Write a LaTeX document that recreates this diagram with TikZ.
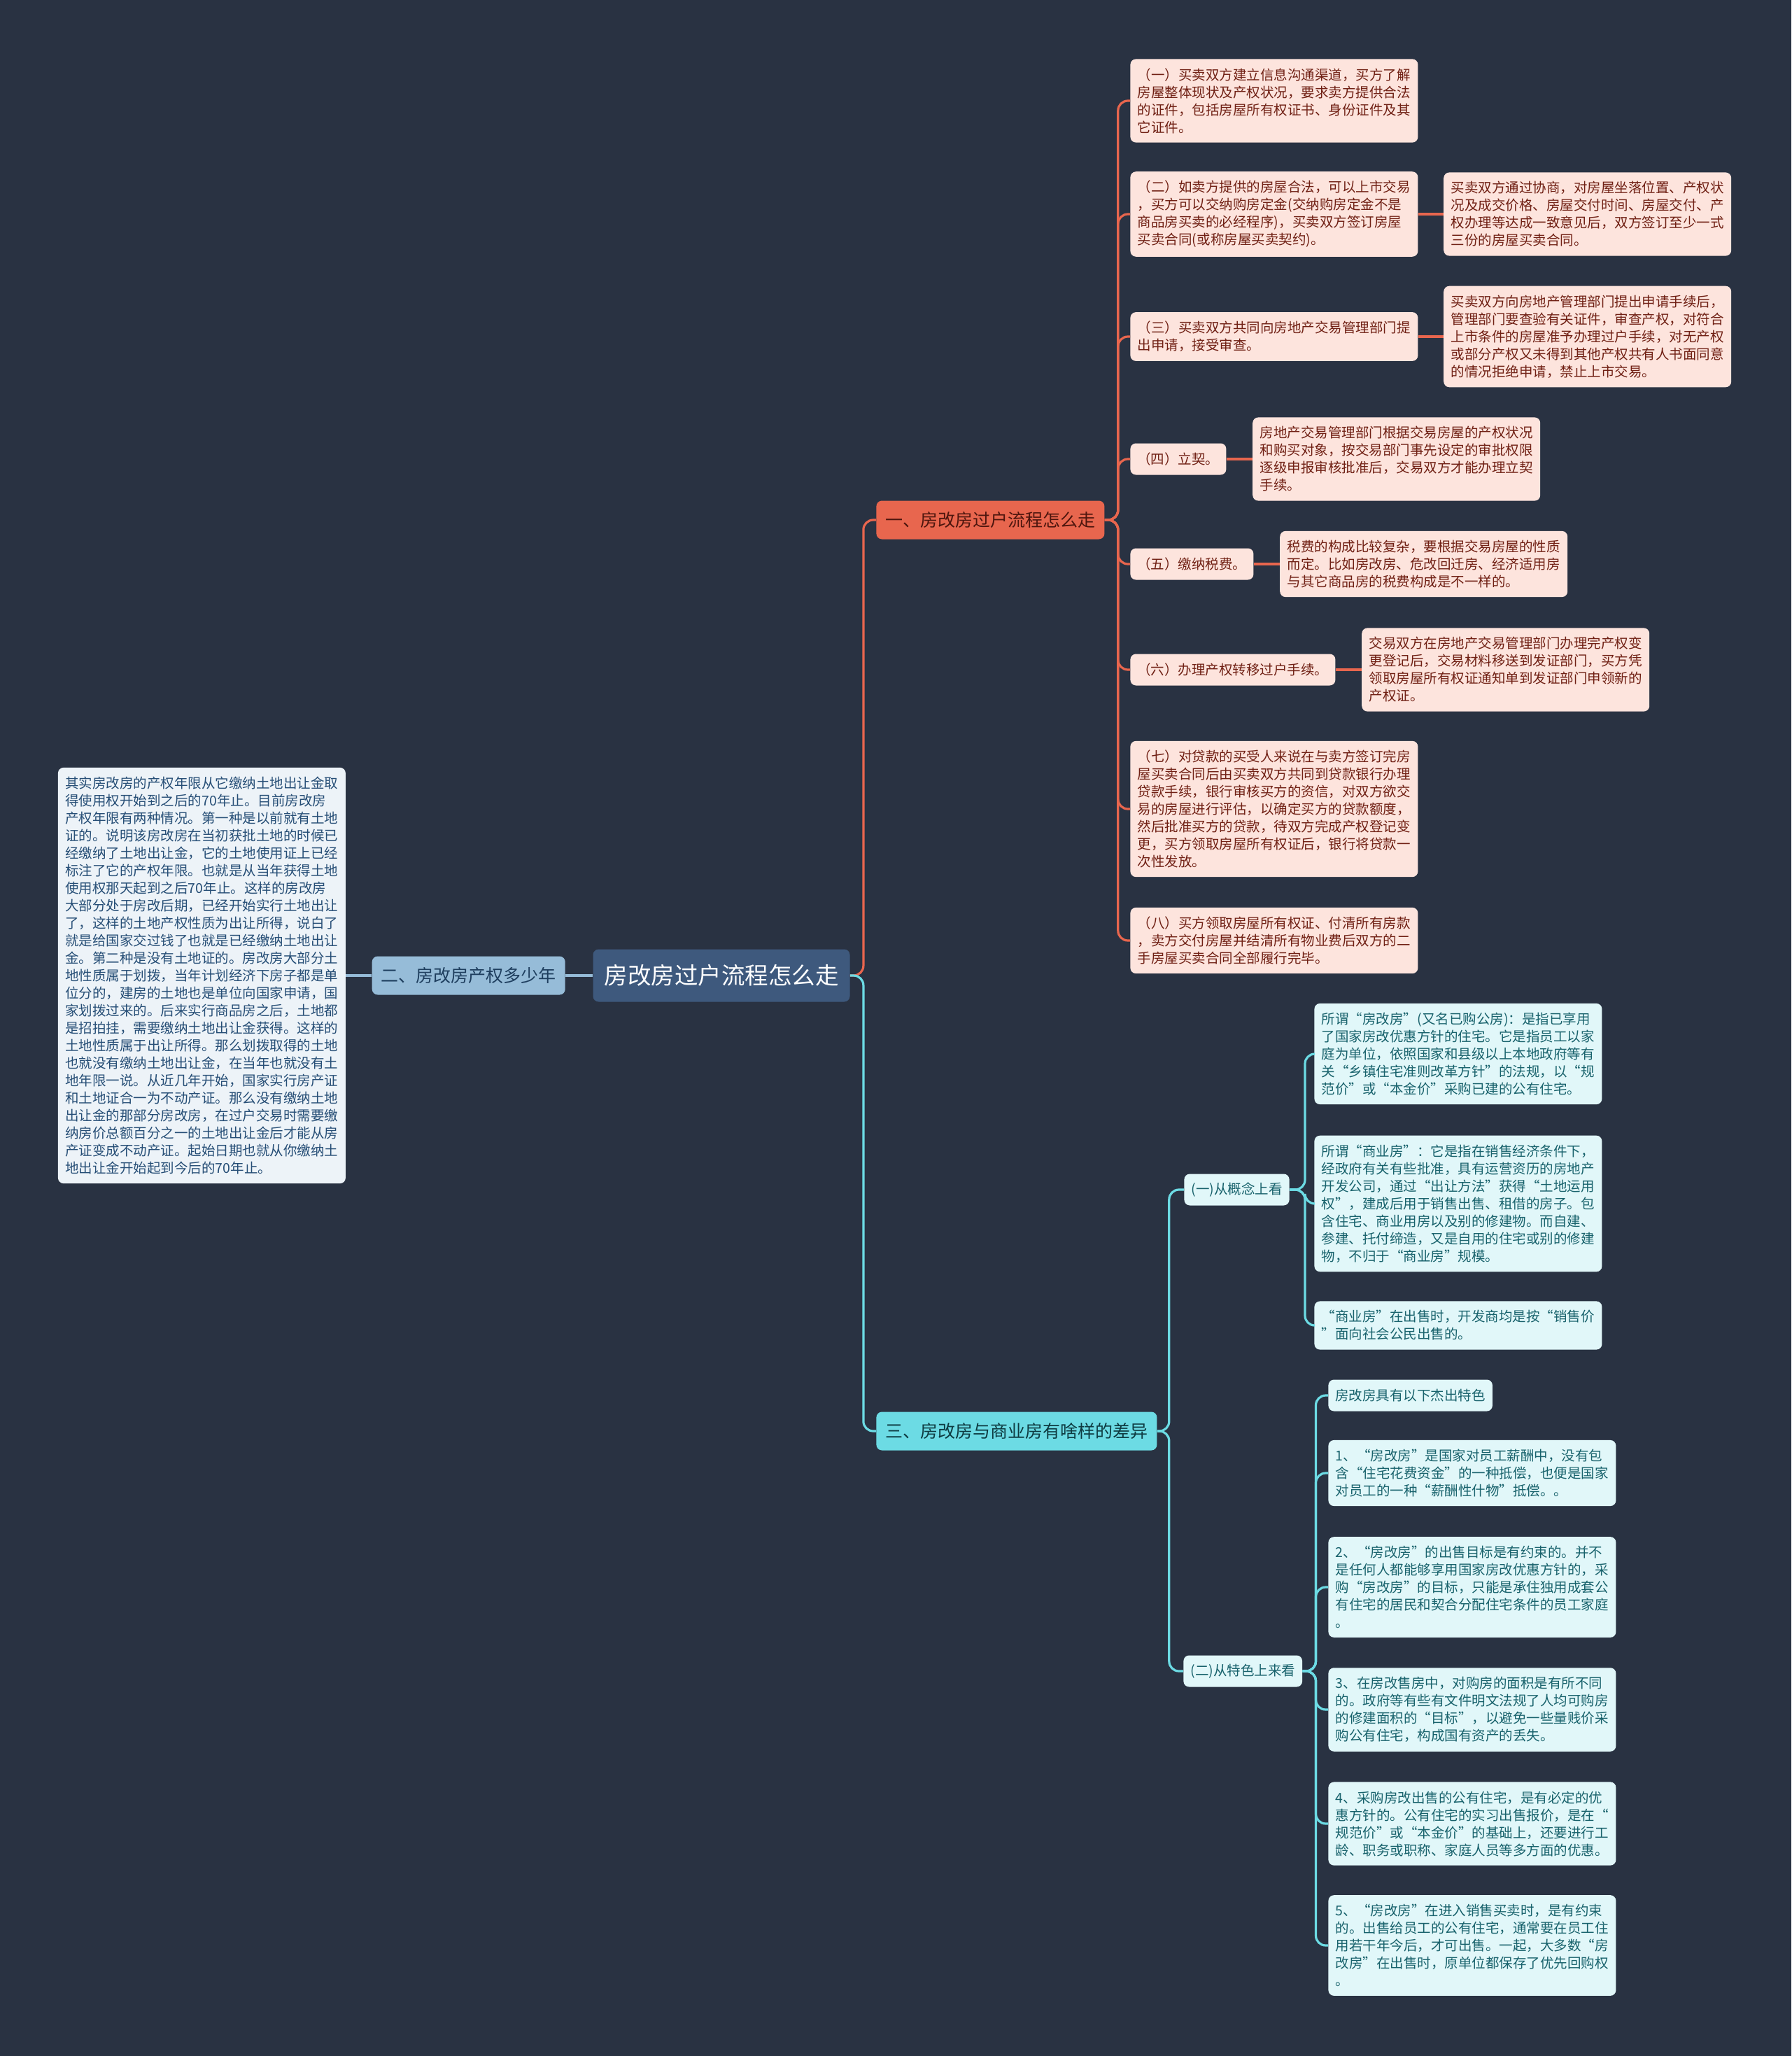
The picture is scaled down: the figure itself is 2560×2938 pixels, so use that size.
\documentclass[tikz,border=0pt]{standalone}
\usepackage{fontspec}
\setmainfont{Noto Sans CJK SC}
\usetikzlibrary{positioning, calc}

\definecolor{bgdark}{RGB}{41,50,66}
\definecolor{rootblue}{RGB}{62,89,125}
\definecolor{skyblue}{RGB}{150,188,216}
\definecolor{paleblue}{RGB}{237,243,248}
\definecolor{inkblue}{RGB}{38,78,118}
\definecolor{tomato}{RGB}{232,102,78}
\definecolor{blush}{RGB}{253,228,221}
\definecolor{rust}{RGB}{112,32,20}
\definecolor{aqua}{RGB}{108,219,228}
\definecolor{mist}{RGB}{225,247,249}
\definecolor{tealink}{RGB}{24,98,108}

\begin{document}
\begin{tikzpicture}[x=0.5pt, y=-0.5pt]
  % Styles
  \tikzstyle{root} = [rectangle, rounded corners=4pt, fill=rootblue, text=white, font=\fontsize{16.75pt}{20pt}\selectfont, inner xsep=8pt, minimum height=37.5pt]
  \tikzstyle{branch} = [rectangle, rounded corners=4pt, font=\fontsize{12.5pt}{15pt}\selectfont, inner xsep=6.5pt, minimum height=27.5pt]
  \tikzstyle{leaf} = [rectangle, rounded corners=4pt, font=\fontsize{9.75pt}{12.5pt}\selectfont, text width=195pt, align=left, inner xsep=5.25pt, inner ysep=6.5pt]
  \tikzstyle{tag} = [rectangle, rounded corners=4pt, font=\fontsize{9.75pt}{12.5pt}\selectfont, inner xsep=5pt, minimum height=22.5pt]
  \tikzstyle{redbox} = [fill=blush, text=rust]
  \tikzstyle{cyanbox} = [fill=mist, text=tealink]
  \tikzstyle{blueline} = [draw=skyblue, line width=1.6pt]
  \tikzstyle{redline} = [draw=tomato, line width=1.6pt, rounded corners=7pt]
  \tikzstyle{cyanline} = [draw=aqua, line width=1.6pt, rounded corners=7pt]

  % Background
  \fill[bgdark] (0,0) rectangle (2560,2938);

  % Root
  \node[root] (root) at (1031,1394) {房改房过户流程怎么走};

  % 2. Left branch
  \node[branch, fill=skyblue, text=inkblue!80!black, left=19.5pt of root] (years) {二、房改房产权多少年};
  \node[leaf, fill=paleblue, text=inkblue, left=18.5pt of years] (yearsnote) {其实房改房的产权年限从它缴纳土地出让金取\\得使用权开始到之后的70年止。目前房改房\\产权年限有两种情况。第一种是以前就有土地\\证的。说明该房改房在当初获批土地的时候已\\经缴纳了土地出让金，它的土地使用证上已经\\标注了它的产权年限。也就是从当年获得土地\\使用权那天起到之后70年止。这样的房改房\\大部分处于房改后期，已经开始实行土地出让\\了，这样的土地产权性质为出让所得，说白了\\就是给国家交过钱了也就是已经缴纳土地出让\\金。第二种是没有土地证的。房改房大部分土\\地性质属于划拨，当年计划经济下房子都是单\\位分的，建房的土地也是单位向国家申请，国\\家划拨过来的。后来实行商品房之后，土地都\\是招拍挂，需要缴纳土地出让金获得。这样的\\土地性质属于出让所得。那么划拨取得的土地\\也就没有缴纳土地出让金，在当年也就没有土\\地年限一说。从近几年开始，国家实行房产证\\和土地证合一为不动产证。那么没有缴纳土地\\出让金的那部分房改房，在过户交易时需要缴\\纳房价总额百分之一的土地出让金后才能从房\\产证变成不动产证。起始日期也就从你缴纳土\\地出让金开始起到今后的70年止。};

  % 1. Process branch
  \node[branch, fill=tomato, text=rust!70!black, anchor=west] (process) at (1252,743) {一、房改房过户流程怎么走};
  \node[leaf, redbox, anchor=west] (s1) at (1615,144) {（一）买卖双方建立信息沟通渠道，买方了解\\房屋整体现状及产权状况，要求卖方提供合法\\的证件，包括房屋所有权证书、身份证件及其\\它证件。};
  \node[leaf, redbox, anchor=west] (s2) at (1615,306) {（二）如卖方提供的房屋合法，可以上市交易\\，买方可以交纳购房定金(交纳购房定金不是\\商品房买卖的必经程序)，买卖双方签订房屋\\买卖合同(或称房屋买卖契约)。};
  \node[leaf, redbox, right=18pt of s2] (d2) {买卖双方通过协商，对房屋坐落位置、产权状\\况及成交价格、房屋交付时间、房屋交付、产\\权办理等达成一致意见后，双方签订至少一式\\三份的房屋买卖合同。};
  \node[leaf, redbox, anchor=west] (s3) at (1615,481) {（三）买卖双方共同向房地产交易管理部门提\\出申请，接受审查。};
  \node[leaf, redbox, right=18pt of s3] (d3) {买卖双方向房地产管理部门提出申请手续后，\\管理部门要查验有关证件，审查产权，对符合\\上市条件的房屋准予办理过户手续，对无产权\\或部分产权又未得到其他产权共有人书面同意\\的情况拒绝申请，禁止上市交易。};
  \node[tag, redbox, anchor=west] (s4) at (1615,656) {（四）立契。};
  \node[leaf, redbox, right=18.5pt of s4] (d4) {房地产交易管理部门根据交易房屋的产权状况\\和购买对象，按交易部门事先设定的审批权限\\逐级申报审核批准后，交易双方才能办理立契\\手续。};
  \node[tag, redbox, anchor=west] (s5) at (1615,806) {（五）缴纳税费。};
  \node[leaf, redbox, right=18.5pt of s5] (d5) {税费的构成比较复杂，要根据交易房屋的性质\\而定。比如房改房、危改回迁房、经济适用房\\与其它商品房的税费构成是不一样的。};
  \node[tag, redbox, anchor=west] (s6) at (1615,957) {（六）办理产权转移过户手续。};
  \node[leaf, redbox, right=18.5pt of s6] (d6) {交易双方在房地产交易管理部门办理完产权变\\更登记后，交易材料移送到发证部门，买方凭\\领取房屋所有权证通知单到发证部门申领新的\\产权证。};
  \node[leaf, redbox, anchor=west] (s7) at (1615,1156) {（七）对贷款的买受人来说在与卖方签订完房\\屋买卖合同后由买卖双方共同到贷款银行办理\\贷款手续，银行审核买方的资信，对双方欲交\\易的房屋进行评估，以确定买方的贷款额度，\\然后批准买方的贷款，待双方完成产权登记变\\更，买方领取房屋所有权证后，银行将贷款一\\次性发放。};
  \node[leaf, redbox, anchor=west] (s8) at (1615,1344) {（八）买方领取房屋所有权证、付清所有房款\\，卖方交付房屋并结清所有物业费后双方的二\\手房屋买卖合同全部履行完毕。};

  % 3. Difference branch
  \node[branch, fill=aqua, text=tealink!60!black, anchor=west] (diff) at (1252,2045) {三、房改房与商业房有啥样的差异};
  \node[tag, cyanbox, anchor=west] (concept) at (1692,1700) {(一)从概念上看};
  \node[leaf, cyanbox, anchor=west] (c1) at (1878,1506) {所谓“房改房”(又名已购公房)：是指已享用\\了国家房改优惠方针的住宅。它是指员工以家\\庭为单位，依照国家和县级以上本地政府等有\\关“乡镇住宅准则改革方针”的法规，以“规\\范价”或“本金价”采购已建的公有住宅。};
  \node[leaf, cyanbox, anchor=west] (c2) at (1878,1720) {所谓“商业房”：它是指在销售经济条件下，\\经政府有关有些批准，具有运营资历的房地产\\开发公司，通过“出让方法”获得“土地运用\\权”，建成后用于销售出售、租借的房子。包\\含住宅、商业用房以及别的修建物。而自建、\\参建、托付缔造，又是自用的住宅或别的修建\\物，不归于“商业房”规模。};
  \node[leaf, cyanbox, anchor=west] (c3) at (1878,1894) {“商业房”在出售时，开发商均是按“销售价\\”面向社会公民出售的。};
  \node[tag, cyanbox, anchor=west] (feature) at (1691,2388) {(二)从特色上来看};
  \node[tag, cyanbox, anchor=west] (f0) at (1898,1994) {房改房具有以下杰出特色};
  \node[leaf, cyanbox, anchor=west] (f1) at (1898,2105) {1、“房改房”是国家对员工薪酬中，没有包\\含“住宅花费资金”的一种抵偿，也便是国家\\对员工的一种“薪酬性什物”抵偿。。};
  \node[leaf, cyanbox, anchor=west] (f2) at (1898,2268) {2、“房改房”的出售目标是有约束的。并不\\是任何人都能够享用国家房改优惠方针的，采\\购“房改房”的目标，只能是承住独用成套公\\有住宅的居民和契合分配住宅条件的员工家庭\\。};
  \node[leaf, cyanbox, anchor=west] (f3) at (1898,2443) {3、在房改售房中，对购房的面积是有所不同\\的。政府等有些有文件明文法规了人均可购房\\的修建面积的“目标”，以避免一些量贱价采\\购公有住宅，构成国有资产的丢失。};
  \node[leaf, cyanbox, anchor=west] (f4) at (1898,2606) {4、采购房改出售的公有住宅，是有必定的优\\惠方针的。公有住宅的实习出售报价，是在“\\规范价”或“本金价”的基础上，还要进行工\\龄、职务或职称、家庭人员等多方面的优惠。};
  \node[leaf, cyanbox, anchor=west] (f5) at (1898,2780) {5、“房改房”在进入销售买卖时，是有约束\\的。出售给员工的公有住宅，通常要在员工住\\用若干年今后，才可出售。一起，大多数“房\\改房”在出售时，原单位都保存了优先回购权\\。};

  % Connectors
  \draw[blueline] (root.west) -- (years.east);
  \draw[blueline] (years.west) -- (yearsnote.east);
  \draw[redline] (root.east) -- ++(19,0) |- (process.west);
  \draw[cyanline] (root.east) -- ++(19,0) |- (diff.west);
  \foreach \n in {1,...,8}
    \draw[redline] (process.east) -- ++(19,0) |- (s\n.west);
  \foreach \n in {2,...,6}
    \draw[redline] (s\n.east) -- (d\n.west);
  \foreach \n in {concept, feature}
    \draw[cyanline] (diff.east) -- ++(17,0) |- (\n.west);
  \foreach \n in {1,2,3}
    \draw[cyanline] (concept.east) -- ++(22,0) |- (c\n.west);
  \foreach \n in {0,...,5}
    \draw[cyanline] (feature.east) -- ++(19,0) |- (f\n.west);

\end{tikzpicture}
\end{document}
